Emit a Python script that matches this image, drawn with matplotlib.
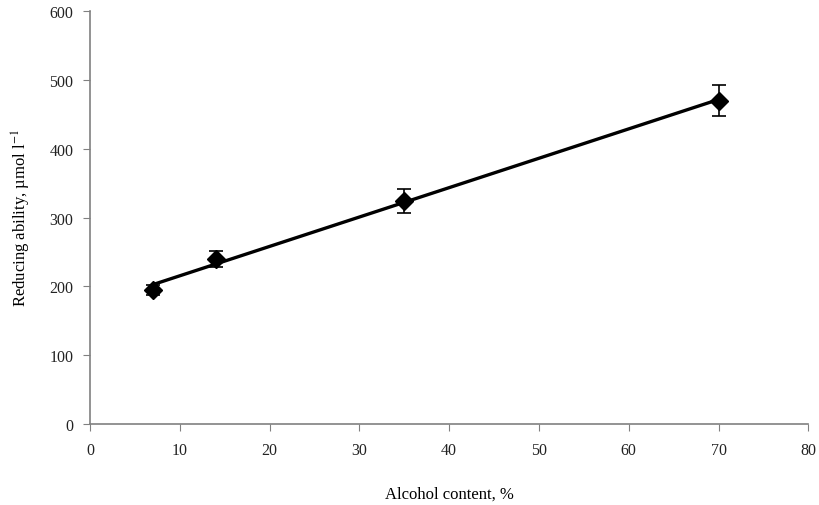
import numpy as np
import matplotlib
matplotlib.use("Agg")
import matplotlib.pyplot as plt

plt.rcParams['font.family'] = ['Liberation Serif', 'DejaVu Serif']
plt.rcParams['mathtext.fontset'] = 'stix'

alcohol = [7, 14, 35, 70]
reducing = [195, 240, 324, 470]
errors = [7, 12, 17, 23]

fig = plt.figure(figsize=(8.19, 5.06), dpi=100)
ax = fig.add_axes([0.11, 0.160, 0.877, 0.816])

slope, intercept = np.polyfit(alcohol, reducing, 1)
xs = np.array([alcohol[0], alcohol[-1]])
ax.plot(xs, slope * xs + intercept, color='black', lw=2.4, zorder=2)
ax.errorbar(alcohol, reducing, yerr=errors, fmt='D', color='black',
            markersize=9, ecolor='black', elinewidth=1.2, capsize=5, capthick=1.2, zorder=3)

ax.set_xlim(0, 80)
ax.set_ylim(0, 600)
ax.set_xticks(range(0, 81, 10))
ax.set_yticks(range(0, 601, 100))
for s in ['top', 'right']:
    ax.spines[s].set_visible(False)
for s in ['left', 'bottom']:
    ax.spines[s].set_color('#808080')
    ax.spines[s].set_linewidth(1.2)
ax.tick_params(axis='both', direction='out', length=5, color='#808080', labelsize=11.5, labelcolor='#222222')
ax.tick_params(axis='x', pad=8)
ax.tick_params(axis='y', pad=7)
ax.set_xlabel('Alcohol content, %', fontsize=12, labelpad=20)
ax.set_ylabel('Reducing ability, µmol l$^{-1}$', fontsize=12, labelpad=12)

fig.savefig('out.png', dpi=100)
